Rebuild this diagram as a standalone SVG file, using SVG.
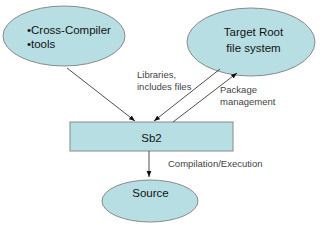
<svg xmlns="http://www.w3.org/2000/svg" width="320" height="225" viewBox="0 0 320 225">
<style>
.node{fill:#b7dfe3;stroke:#8a8a8a;stroke-width:1}
.nt{font-family:"Liberation Sans",Arial,sans-serif;font-size:11.5px;fill:#111}
.lb{font-family:"Liberation Sans",Arial,sans-serif;font-size:9.5px;fill:#444}
.c{stroke:#222;stroke-width:0.8;fill:none;marker-end:url(#ah)}
</style>
<defs>
<marker id="ah" viewBox="0 0 10 10" refX="10" refY="5" markerWidth="6" markerHeight="6" markerUnits="userSpaceOnUse" orient="auto">
<path d="M0,1 L10,5 L0,9 z" fill="#111"/>
</marker>
</defs>
<rect width="320" height="225" fill="#fff"/>
<g id="cross">
<ellipse class="node" cx="64" cy="36" rx="61" ry="30"/>
<text class="nt" x="27" y="34">•Cross-Compiler</text>
<text class="nt" x="27" y="48">•tools</text>
</g>
<g id="target">
<ellipse class="node" cx="251" cy="42" rx="64" ry="34"/>
<text class="nt" x="253.5" y="36" text-anchor="middle">Target Root</text>
<text class="nt" x="253.5" y="52" text-anchor="middle">file system</text>
</g>
<g id="sb2">
<rect class="node" x="70" y="122" width="163" height="29"/>
<text class="nt" x="151.5" y="142" text-anchor="middle">Sb2</text>
</g>
<g id="source">
<ellipse class="node" cx="150" cy="201" rx="48" ry="21"/>
<text class="nt" x="150.5" y="197" text-anchor="middle">Source</text>
</g>
<g id="connectors">
<line class="c" x1="67" y1="68" x2="135" y2="121"/>
<line class="c" x1="220" y1="69" x2="154" y2="121"/>
<line class="c" x1="173" y1="122" x2="237" y2="73"/>
<line class="c" x1="149" y1="151" x2="149" y2="177"/>
</g>
<g id="labels">
<text class="lb" x="137" y="78">Libraries,</text>
<text class="lb" x="137" y="90">includes files</text>
<text class="lb" x="220" y="93">Package</text>
<text class="lb" x="220" y="105">management</text>
<text class="lb" x="168" y="167">Compilation/Execution</text>
</g>
</svg>
